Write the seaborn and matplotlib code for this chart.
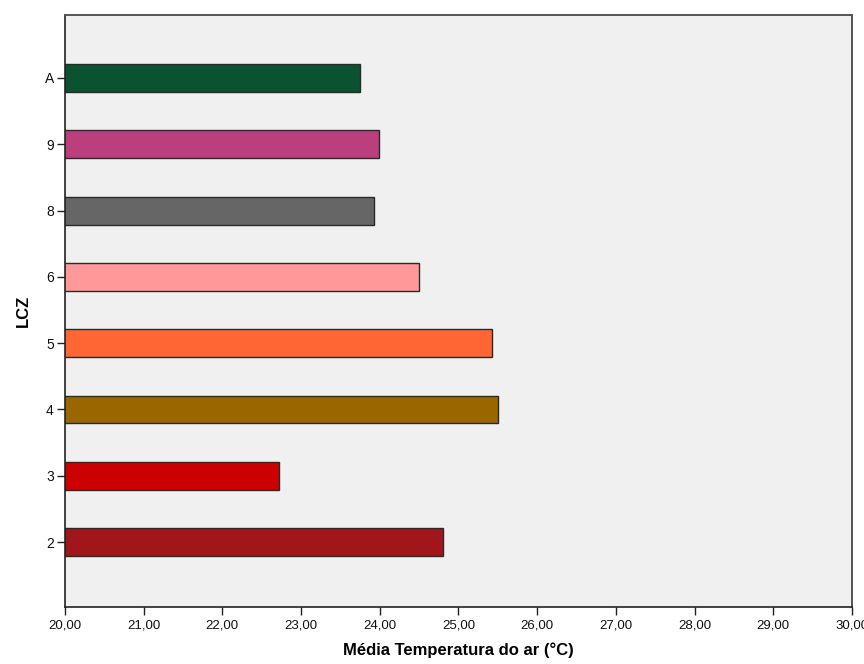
import matplotlib
matplotlib.use("Agg")
import matplotlib.pyplot as plt
import seaborn as sns
import pandas as pd

# Mean air temperature by Local Climate Zone
lcz = ["A", "9", "8", "6", "5", "4", "3", "2"]
temperatura = [23.75, 23.99, 23.93, 24.50, 25.43, 25.50, 22.72, 24.80]
cores = ["#0b5230", "#ba3f7c", "#666666", "#ff9999",
         "#ff6633", "#996600", "#cc0000", "#a0161b"]
x_ticks = [20, 21, 22, 23, 24, 25, 26, 27, 28, 29, 30]

df = pd.DataFrame({"LCZ": lcz, "temp": temperatura})

sns.set_theme(style="white")
plt.rcParams["font.family"] = ["Liberation Sans", "DejaVu Sans"]
plt.rcParams["text.color"] = "#111111"
plt.rcParams["xtick.color"] = "#111111"
plt.rcParams["ytick.color"] = "#111111"
plt.rcParams["axes.labelcolor"] = "#000000"

fig = plt.figure(figsize=(8.64, 6.64), dpi=100)
ax = fig.add_axes([0.0752, 0.0858, 0.9108, 0.8916])
ax.set_facecolor("#f0f0f0")

sns.barplot(data=df, x="temp", y="LCZ", order=lcz, hue="LCZ",
            palette=dict(zip(lcz, cores)), legend=False, saturation=1,
            width=0.42, edgecolor="#2a2a2a", linewidth=1.0, ax=ax)

ax.set_xlim(20, 30)
ax.set_ylim(7.98, -0.95)

ax.set_xticks(x_ticks)
ax.set_xticklabels([f"{t:.2f}".replace(".", ",") for t in x_ticks], fontsize=9.5)
ax.tick_params(axis="y", labelsize=10, length=6, width=1, direction="out",
               color="#222222", pad=2, left=True)
ax.tick_params(axis="x", length=6, width=1, direction="out",
               color="#222222", pad=3, bottom=True)

for side in ["left", "bottom"]:
    ax.spines[side].set_color("#222222")
    ax.spines[side].set_linewidth(1.2)
for side in ["top", "right"]:
    ax.spines[side].set_visible(True)
    ax.spines[side].set_color("#555555")
    ax.spines[side].set_linewidth(1.4)

ax.set_xlabel("Média Temperatura do ar (°C)", fontsize=12, fontweight="bold",
              labelpad=8)
ax.set_ylabel("LCZ", fontsize=12, fontweight="bold", labelpad=10)

fig.savefig("out.png", dpi=100)
